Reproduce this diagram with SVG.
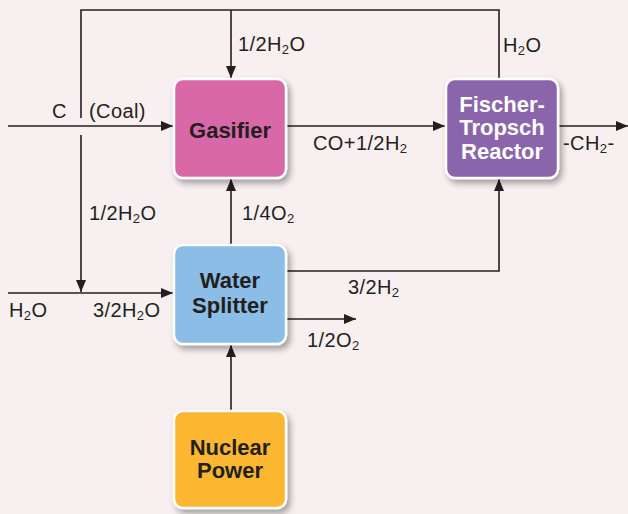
<svg xmlns="http://www.w3.org/2000/svg" width="628" height="514" viewBox="0 0 628 514">
<style>
.lbl{font-family:"Liberation Sans",Arial,sans-serif;font-size:20px;fill:#231f20;letter-spacing:0.4px}
.sub{font-size:13px}
.box{stroke:#ffffff;stroke-width:2.5}
.bt{font-family:"Liberation Sans",Arial,sans-serif;font-size:22px;font-weight:bold;text-anchor:middle}
.ln{stroke:#231f20;stroke-width:1.6;fill:none}
</style>
<defs>
<marker id="ah" viewBox="0 0 12 10" refX="12" refY="5" markerWidth="12" markerHeight="10" markerUnits="userSpaceOnUse" orient="auto">
<path d="M0,0 L12,5 L0,10 Z" fill="#231f20"/>
</marker>
<filter id="sh" x="-20%" y="-20%" width="150%" height="150%">
<feDropShadow dx="3" dy="4" stdDeviation="3" flood-color="#000" flood-opacity="0.35"/>
</filter>
</defs>
<rect width="628" height="514" fill="#f7eff0"/>
<g id="connectors">
<polyline class="ln" points="81,118 81,10 499,10 499,79"/>
<line class="ln" x1="231" y1="10" x2="231" y2="78" marker-end="url(#ah)"/>
<line class="ln" x1="8" y1="126" x2="173" y2="126" marker-end="url(#ah)"/>
<line class="ln" x1="286" y1="126" x2="445" y2="126" marker-end="url(#ah)"/>
<line class="ln" x1="558" y1="126" x2="628" y2="126" marker-end="url(#ah)"/>
<line class="ln" x1="81" y1="135" x2="81" y2="292" marker-end="url(#ah)"/>
<line class="ln" x1="8" y1="293" x2="173" y2="293" marker-end="url(#ah)"/>
<line class="ln" x1="231" y1="245" x2="231" y2="179" marker-end="url(#ah)"/>
<polyline class="ln" points="286,271 499,271 499,179" marker-end="url(#ah)"/>
<line class="ln" x1="286" y1="319" x2="356" y2="319" marker-end="url(#ah)"/>
<line class="ln" x1="231" y1="411" x2="231" y2="345" marker-end="url(#ah)"/>
</g>
<g id="labels">
<text class="lbl" x="238" y="51">1/2H<tspan class="sub" dy="3">2</tspan><tspan dy="-3">O</tspan></text>
<text class="lbl" x="503" y="52">H<tspan class="sub" dy="3">2</tspan><tspan dy="-3">O</tspan></text>
<text class="lbl" x="52" y="118">C</text>
<text class="lbl" x="89" y="118">(Coal)</text>
<text class="lbl" x="313" y="150">CO+1/2H<tspan class="sub" dy="3">2</tspan></text>
<text class="lbl" x="563" y="150">-CH<tspan class="sub" dy="3">2</tspan><tspan dy="-3">-</tspan></text>
<text class="lbl" x="89" y="220">1/2H<tspan class="sub" dy="3">2</tspan><tspan dy="-3">O</tspan></text>
<text class="lbl" x="242" y="220">1/4O<tspan class="sub" dy="3">2</tspan></text>
<text class="lbl" x="348" y="294">3/2H<tspan class="sub" dy="3">2</tspan></text>
<text class="lbl" x="9" y="317">H<tspan class="sub" dy="3">2</tspan><tspan dy="-3">O</tspan></text>
<text class="lbl" x="93" y="317">3/2H<tspan class="sub" dy="3">2</tspan><tspan dy="-3">O</tspan></text>
<text class="lbl" x="307" y="347">1/2O<tspan class="sub" dy="3">2</tspan></text>
</g>
<g id="gasifier">
<rect class="box" x="174" y="79" width="112" height="99" rx="9" fill="#d968a8" filter="url(#sh)"/>
<text class="bt" x="230" y="138" fill="#231f20">Gasifier</text>
</g>
<g id="ft-reactor">
<rect class="box" x="446" y="79" width="112" height="99" rx="9" fill="#8a65ab" filter="url(#sh)"/>
<text class="bt" x="502" y="112" fill="#ffffff">Fischer-</text>
<text class="bt" x="502" y="135" fill="#ffffff">Tropsch</text>
<text class="bt" x="502" y="159" fill="#ffffff">Reactor</text>
</g>
<g id="water-splitter">
<rect class="box" x="174" y="245" width="112" height="99" rx="9" fill="#8bbde6" filter="url(#sh)"/>
<text class="bt" x="230" y="288" fill="#231f20">Water</text>
<text class="bt" x="230" y="313" fill="#231f20">Splitter</text>
</g>
<g id="nuclear-power">
<rect class="box" x="174" y="411" width="112" height="97" rx="9" fill="#fbb630" filter="url(#sh)"/>
<text class="bt" x="230" y="455" fill="#231f20">Nuclear</text>
<text class="bt" x="230" y="478" fill="#231f20">Power</text>
</g>
</svg>
